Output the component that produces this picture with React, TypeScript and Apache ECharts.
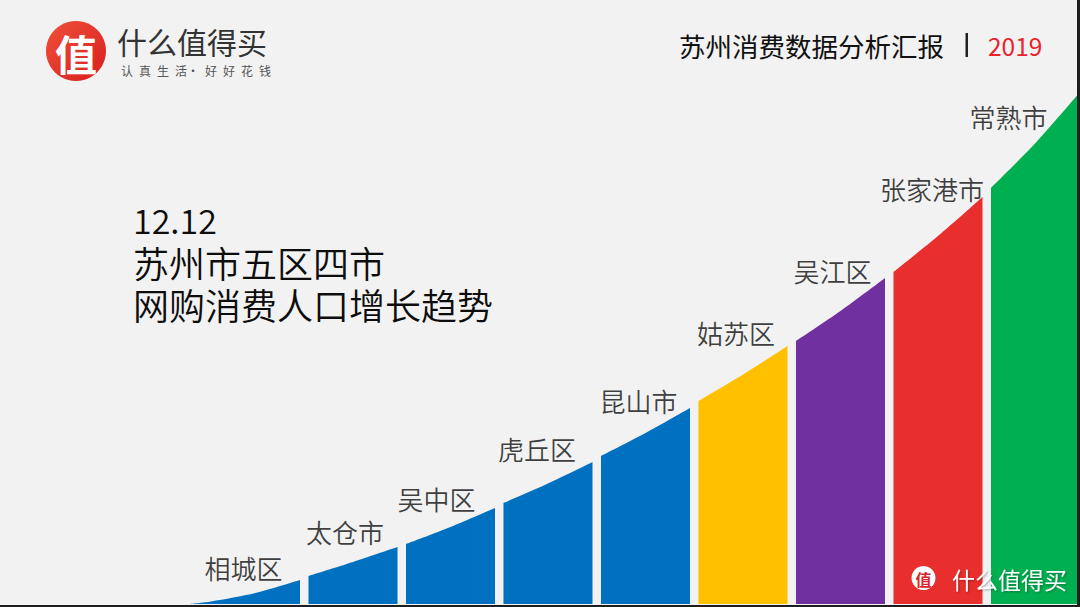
import React, { useEffect, useRef } from 'react';
import * as echarts from 'echarts';

// ---- data ----
const DISTRICTS = ['相城区', '太仓市', '吴中区', '虎丘区', '昆山市', '姑苏区', '吴江区', '张家港市', '常熟市'];
// growth level of the trend curve at the start, middle and end of each district's band
const LEVEL_START = [2.5, 28, 60, 101, 148, 203, 263, 332, 416];
const LEVEL_MID = [11, 42, 77, 120.5, 171, 229.5, 293, 368, 461];
const LEVEL_END = [24, 57, 96, 142, 196, 258, 326, 407, 512];
const CURVE_ORIGIN = [-0.22, 0]; // where the trend curve leaves zero
const HEADLINE_DATE = '12.12';
const HEADLINE = ['苏州市五区四市', '网购消费人口增长趋势'];
const REPORT_TITLE = '苏州消费数据分析汇报';
const REPORT_YEAR = '2019';
const BRAND = '什么值得买';
const SLOGAN = ['认真生活', '好好花钱'];

// ---- styles / layout ----
const COLORS = ['#0070C0', '#0070C0', '#0070C0', '#0070C0', '#0070C0', '#FFC000', '#7030A0', '#E92E2E', '#00AF50'];
const BAND_W = 0.913;
const LABEL_OFFSETS = [[-12, -13], [-8, -16], [-14, -10], [-11, -14], [-7, -8], [-7, -14], [-8, -8], [-6, -9], [-27, 24]];
const FONT = '"Noto Sans CJK SC", "Noto Sans", sans-serif';
const SP = '\u2002';

export default function App() {
  const ref = useRef<HTMLDivElement>(null);
  useEffect(() => {
    if (!ref.current) return;
    const chart = echarts.init(ref.current, null, { renderer: 'svg' });

    const bandSeries = DISTRICTS.map((name, i) => {
      const pts: number[][] = [];
      if (i === 0) pts.push(CURVE_ORIGIN);
      pts.push([i, LEVEL_START[i]], [i + BAND_W / 2, LEVEL_MID[i]], [i + BAND_W, LEVEL_END[i]]);
      return {
        type: 'line',
        name,
        data: pts,
        smooth: 0.3,
        showSymbol: false,
        symbol: 'none',
        lineStyle: { width: 0 },
        areaStyle: { color: COLORS[i], opacity: 1, origin: 'start' },
        silent: true,
        z: 2,
      };
    });

    const labelSeries = {
      type: 'scatter',
      symbolSize: 1,
      itemStyle: { color: 'rgba(0,0,0,0)' },
      silent: true,
      z: 5,
      data: DISTRICTS.map((name, i) => ({
        name,
        value: [i + BAND_W / 2, LEVEL_END[i]],
        label: { offset: LABEL_OFFSETS[i] },
      })),
      label: {
        show: true,
        position: 'inside',
        formatter: (p: any) => p.name,
        color: '#0d0d0d',
        fontSize: 26,
        fontWeight: 350,
        fontFamily: FONT,
        align: 'center',
        verticalAlign: 'middle',
      },
    };

    const sloganText = SLOGAN.map((s) => s.split('').join(SP)).join('·' + SP);

    chart.setOption({
      animation: false,
      backgroundColor: '#F2F2F2',
      grid: { left: 0, right: 0, top: 0, bottom: 3 },
      xAxis: { type: 'value', min: BAND_W + 8 - 1080 / 97.5, max: 8 + BAND_W, show: false },
      yAxis: { type: 'value', min: 0, max: 604, show: false },
      series: [...bandSeries, labelSeries],
      graphic: [
        // logo
        {
          type: 'circle', z: 10, shape: { cx: 76, cy: 51, r: 30 },
          style: { fill: new echarts.graphic.LinearGradient(0, 0, 1, 1, [
            { offset: 0, color: '#F0503A' }, { offset: 1, color: '#D81E1E' }]) },
        },
        { type: 'text', x: 76, y: 52, z: 11,
          style: { text: '值', font: `bold 42px ${FONT}`, fill: '#fff', align: 'center', verticalAlign: 'middle' } },
        { type: 'text', x: 117, y: 41, z: 10,
          style: { text: BRAND, font: `30px ${FONT}`, fill: '#333', verticalAlign: 'middle' } },
        { type: 'text', x: 121, y: 70, z: 10,
          style: { text: sloganText, font: `12px ${FONT}`, fill: '#555', verticalAlign: 'middle' } },
        // report title
        { type: 'text', x: 679, y: 45, z: 10,
          style: { text: REPORT_TITLE, font: `26.5px ${FONT}`, fill: '#111', verticalAlign: 'middle' } },
        { type: 'rect', z: 10, shape: { x: 965.5, y: 33, width: 2.5, height: 24 }, style: { fill: '#222' } },
        { type: 'text', x: 988, y: 45, z: 10,
          style: { text: REPORT_YEAR, font: `24.5px ${FONT}`, fill: '#E8242D', verticalAlign: 'middle' } },
        // headline
        { type: 'text', x: 133, y: 261, z: 10,
          style: {
            text: `{d|${HEADLINE_DATE}}\n{t|${HEADLINE[0]}}\n{t|${HEADLINE[1]}}`,
            verticalAlign: 'middle',
            fill: '#111',
            rich: {
              d: { fontSize: 34, fontFamily: FONT, fontWeight: 350, lineHeight: 43, fill: '#0d0d0d' },
              t: { fontSize: 36, fontFamily: FONT, fontWeight: 350, lineHeight: 42, fill: '#0d0d0d' },
            },
          } },
        // watermark
        { type: 'circle', z: 20, shape: { cx: 923.5, cy: 578, r: 12 }, style: { fill: '#fff' } },
        { type: 'text', x: 923.5, y: 578.5, z: 21,
          style: { text: '值', font: `bold 16px ${FONT}`, fill: '#D8232A', align: 'center', verticalAlign: 'middle' } },
        { type: 'text', x: 952, y: 579, z: 21,
          style: { text: BRAND, font: `23px ${FONT}`, fill: '#fff', verticalAlign: 'middle',
            textShadowColor: 'rgba(0,0,0,0.35)', textShadowBlur: 2, textShadowOffsetX: 1, textShadowOffsetY: 1 } },
        // frame edges
        { type: 'rect', z: 30, shape: { x: 0, y: 605, width: 1080, height: 2 }, style: { fill: '#1E1E1E' } },
        { type: 'rect', z: 30, shape: { x: 1077, y: 0, width: 3, height: 607 }, style: { fill: '#1E1E1E' } },
      ],
    });
    return () => chart.dispose();
  }, []);
  return (
    <div
      ref={ref}
      style={{ position: 'fixed', left: 0, top: 0, width: 1080, height: 607, background: '#F2F2F2' }}
    />
  );
}
